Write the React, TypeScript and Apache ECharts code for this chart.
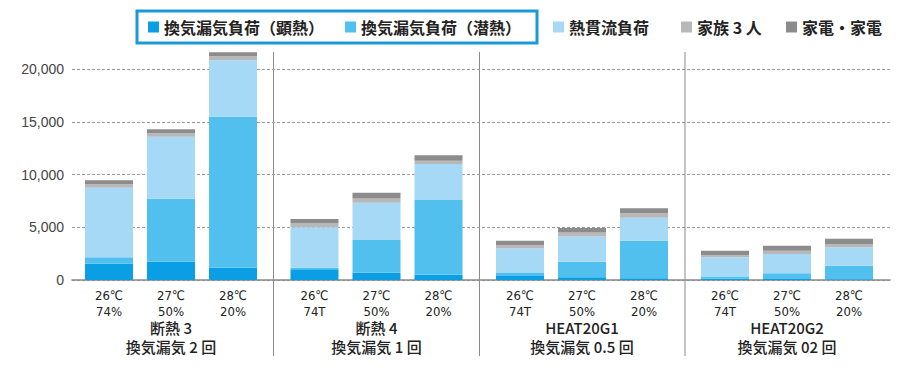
import React, { useEffect, useRef } from "react";
import * as echarts from "echarts";

const seriesNames = ["換気漏気負荷（顕熱）", "換気漏気負荷（潜熱）", "熱貫流負荷", "家族 3 人", "家電・家電"];
const colors = ["#0a9fe4", "#52c0ef", "#a6d9f6", "#b8b8b8", "#8c8c8c"];

const groupNames = ["断熱 3\n換気漏気 2 回", "断熱 4\n換気漏気 1 回", "HEAT20G1\n換気漏気 0.5 回", "HEAT20G2\n換気漏気 02 回"];
const categories = [
  ["26℃\n74%", "27℃\n50%", "28℃\n20%"],
  ["26℃\n74T", "27℃\n50%", "28℃\n20%"],
  ["26℃\n74T", "27℃\n50%", "28℃\n20%"],
  ["26℃\n74T", "27℃\n50%", "28℃\n20%"],
];

// values per group (3 bars each)
const sensible = [
  [1550, 1740, 1170],
  [1010, 700, 500],
  [380, 250, 160],
  [150, 100, 80],
];
const latent = [
  [600, 5980, 14330],
  [160, 3100, 7090],
  [280, 1490, 3570],
  [180, 530, 1280],
];
const heatFlow = [
  [6610, 5880, 5370],
  [3830, 3540, 3410],
  [2340, 2400, 2180],
  [1820, 1840, 1740],
];
const family = [
  [320, 320, 380],
  [380, 400, 320],
  [320, 380, 420],
  [190, 310, 320],
];
const appliances = [
  [380, 380, 380],
  [410, 550, 510],
  [410, 410, 470],
  [440, 480, 500],
];
const yTicks = { min: 0, max: 20000, interval: 5000 };

const seriesData = [sensible, latent, heatFlow, family, appliances];
const gridLefts = [78, 283.5, 489, 694];
const gridWidth = 186;
const legendLefts = [148, 345, 553, 681, 786];
const separatorsX = [273.5, 479.5, 685];

const FONT = "'Noto Sans CJK JP', sans-serif";
const LABEL_FONT = "'DejaVu Sans Condensed', 'Noto Sans CJK JP', sans-serif";

export default function App() {
  const ref = useRef<HTMLDivElement>(null);
  useEffect(() => {
    if (!ref.current) return;
    const chart = echarts.init(ref.current, undefined, { renderer: "svg" });
    const gridTop = 69.3;
    const gridHeight = 280 - gridTop;

    const grids: any[] = [{ left: 72, right: 10, top: gridTop, height: gridHeight }];
    const xAxes: any[] = [
      {
        type: "value",
        gridIndex: 0,
        min: 0,
        max: 1,
        axisLine: { show: true, onZero: false, lineStyle: { color: "#8a8a8a", width: 1.5 } },
        axisTick: { show: false },
        axisLabel: { show: false },
        splitLine: { show: false },
      },
    ];
    const yAxes: any[] = [
      {
        type: "value",
        gridIndex: 0,
        ...yTicks,
        axisLine: { show: false },
        axisTick: { show: false },
        axisLabel: {
          color: "#444",
          fontSize: 14,
          fontFamily: "'Liberation Sans', Arial, sans-serif",
          margin: 8,
          formatter: (v: number) => v.toLocaleString("en-US"),
        },
        splitLine: { show: true, lineStyle: { color: "#9a9a9a", type: [3, 2], width: 1 } },
      },
    ];
    const series: any[] = [];
    groupNames.forEach((gname, g) => {
      const gi = g + 1;
      grids.push({ left: gridLefts[g], width: gridWidth, top: gridTop, height: gridHeight });
      xAxes.push({
        type: "category",
        gridIndex: gi,
        data: categories[g],
        axisLine: { show: false },
        axisTick: { show: false },
        axisLabel: {
          color: "#222",
          fontSize: 13,
          lineHeight: 16,
          fontFamily: LABEL_FONT,
          margin: 7,
        },
        name: gname,
        nameLocation: "middle",
        nameGap: 38,
        nameMoveOverlap: false,
        nameTextStyle: {
          color: "#222",
          fontSize: 15,
          lineHeight: 19,
          fontFamily: FONT,
          fontWeight: 500,
          verticalAlign: "top",
        },
      });
      yAxes.push({
        type: "value",
        gridIndex: gi,
        ...yTicks,
        show: false,
        splitLine: { show: false },
      });
      seriesNames.forEach((sname, s) => {
        series.push({
          type: "bar",
          name: sname,
          xAxisIndex: gi,
          yAxisIndex: gi,
          stack: "g" + gi,
          barWidth: 48,
          clip: false,
          itemStyle: { color: colors[s] },
          data: seriesData[s][g],
        });
      });
    });

    const legends = seriesNames.map((n, i) => ({
      data: [n],
      left: legendLefts[i],
      top: 19,
      padding: 0,
      itemWidth: 11,
      itemHeight: 11,
      itemGap: 5,
      icon: "rect",
      selectedMode: false,
      textStyle: { color: "#222", fontSize: 16, fontWeight: "bold", fontFamily: FONT },
    }));

    const graphics: any[] = [
      {
        type: "rect",
        shape: { x: 137, y: 11, width: 400, height: 32 },
        style: { fill: "none", stroke: "#1a9ad6", lineWidth: 3 },
      },
      ...separatorsX.map((x) => ({
        type: "line",
        shape: { x1: x, y1: 52, x2: x, y2: 356 },
        style: { stroke: "#8a8a8a", lineWidth: 1 },
      })),
    ];

    chart.setOption({
      animation: false,
      grid: grids,
      xAxis: xAxes,
      yAxis: yAxes,
      legend: legends,
      series,
      graphic: graphics,
    });
    return () => chart.dispose();
  }, []);
  return <div ref={ref} style={{ width: 900, height: 371, margin: -8 }} />;
}
